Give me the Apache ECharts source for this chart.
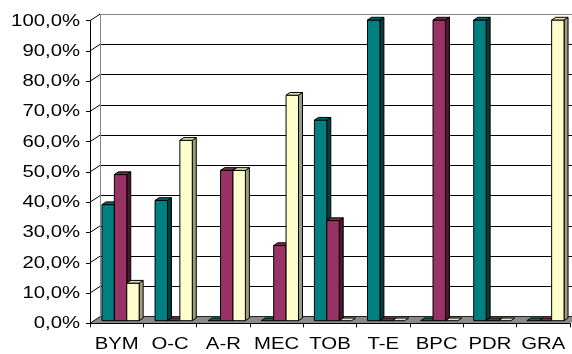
<!DOCTYPE html>
<html>
<head>
<meta charset="utf-8">
<script src="https://cdn.jsdelivr.net/npm/echarts@6/dist/echarts.min.js"></script>
<style>
  html, body { margin: 0; padding: 0; background: #fff; }
  #chart { width: 572px; height: 354px; }
</style>
</head>
<body>
<div id="chart"></div>
<script>
// Categories and the three series (percent shares per category)
const categories = ['BYM', 'O-C', 'A-R', 'MEC', 'TOB', 'T-E', 'BPC', 'PDR', 'GRA'];
const tealValues = [38.6, 40, 0, 0, 66.7, 100, 0, 100, 0];
const maroonValues = [48.6, 0, 50, 25, 33.3, 0, 100, 0, 0];
const yellowValues = [12.5, 60, 50, 75, 0, 0, 0, 0, 100];
const yTicks = [0, 10, 20, 30, 40, 50, 60, 70, 80, 90, 100];

const FONT = 'Liberation Sans, Arial, sans-serif';
const LABEL_SIZE = 16;
const LABEL_STRETCH = 1.27;   // labels are set a little wide
// Oblique projection offsets: front plane -> back wall, and bar depth
const WALL_DX = 10, WALL_DY = 6.6;
const BAR_DX = 4, BAR_DY = 2.7;
const BAR_W = 12.4;

const palettes = [
  { front: '#008080', top: '#006a6a', side: '#003d3d' },
  { front: '#993366', top: '#7d2953', side: '#4a1830' },
  { front: '#ffffcc', top: '#e3e3b0', side: '#9c9c7e' }
];

function pct(v) { return v.toFixed(1).replace('.', ',') + '%'; }

function barRenderer(s) {
  const pal = palettes[s];
  return function (params, api) {
    const i = api.value(0), v = api.value(1);
    const top = api.coord([i, v]);
    const base = api.coord([i, 0]);
    const x0 = top[0] - 1.5 * BAR_W + s * BAR_W;
    const x1 = x0 + BAR_W;
    const yt = top[1], yb = base[1];
    const stroke = { stroke: '#000', lineWidth: 1 };
    const children = [];
    if (yb - yt > 0.5) {
      children.push({
        type: 'polygon',
        shape: { points: [[x1, yt], [x1 + BAR_DX, yt - BAR_DY], [x1 + BAR_DX, yb - BAR_DY], [x1, yb]] },
        style: Object.assign({ fill: pal.side }, stroke)
      });
      children.push({
        type: 'rect',
        shape: { x: x0, y: yt, width: BAR_W, height: yb - yt },
        style: Object.assign({ fill: pal.front }, stroke)
      });
    }
    children.push({
      type: 'polygon',
      shape: { points: [[x0, yt], [x1, yt], [x1 + BAR_DX, yt - BAR_DY], [x0 + BAR_DX, yt - BAR_DY]] },
      style: Object.assign({ fill: pal.top }, stroke)
    });
    return { type: 'group', children: children };
  };
}

const seriesValues = [tealValues, maroonValues, yellowValues];
const barSeries = seriesValues.map((vals, s) => ({
  type: 'custom',
  xAxisIndex: 1,
  yAxisIndex: 1,
  z: 3,
  renderItem: barRenderer(s),
  encode: { x: 0, y: 1 },
  data: vals.map((v, i) => [i, v])
}));

function wideText(text, x, y, align) {
  return {
    type: 'text', x: x, y: y, scaleX: LABEL_STRETCH,
    style: {
      text: text, fill: '#000', fontFamily: FONT, fontSize: LABEL_SIZE,
      align: align, verticalAlign: 'middle'
    }
  };
}

const chart = echarts.init(document.getElementById('chart'), null, { renderer: 'canvas' });

chart.setOption({
  animation: false,
  backgroundColor: '#ffffff',
  grid: [
    // back wall
    { left: 100, top: 14.1, width: 480, height: 302.6 },
    // plane through the bars
    { left: 94, top: 20, width: 480, height: 300.7 },
    // front plane carrying the axes
    { left: 90, top: 20.7, width: 480, height: 302.6 }
  ],
  xAxis: [
    { gridIndex: 0, type: 'category', data: categories, show: false },
    { gridIndex: 1, type: 'category', data: categories, show: false },
    {
      gridIndex: 2, type: 'category', data: categories, z: 6,
      axisLine: { lineStyle: { color: '#000', width: 1 } },
      axisTick: { show: true, length: 4, lineStyle: { color: '#000' } },
      axisLabel: { show: false },
      splitLine: { show: false }
    }
  ],
  yAxis: [
    {
      gridIndex: 0, type: 'value', min: 0, max: 100, interval: 10, z: 0,
      axisLine: { show: true, lineStyle: { color: '#888', width: 1 } },
      axisTick: { show: false },
      axisLabel: { show: false },
      splitLine: {
        show: true,
        lineStyle: { color: ['#000', '#000', '#000', '#000', '#000', '#000', '#000', '#000', '#000', '#000', '#888'], width: 1 }
      }
    },
    { gridIndex: 1, type: 'value', min: 0, max: 100, interval: 10, show: false },
    {
      gridIndex: 2, type: 'value', min: 0, max: 100, interval: 10, z: 6,
      axisLine: { show: true, lineStyle: { color: '#000', width: 1 } },
      axisTick: { show: true, length: 4, lineStyle: { color: '#000' } },
      axisLabel: { show: false },
      splitLine: { show: false }
    }
  ],
  series: [
    // grey floor between front axis and back wall
    {
      type: 'custom', xAxisIndex: 2, yAxisIndex: 2, z: 1, silent: true,
      data: [[0, 0]],
      renderItem: function (params, api) {
        const first = api.coord([0, 0]);
        const last = api.coord([categories.length - 1, 0]);
        const half = api.size([1, 0])[0] / 2;
        const L = first[0] - half, R = last[0] + half, y = first[1];
        return {
          type: 'polygon',
          shape: { points: [[L, y], [R, y], [R + WALL_DX, y - WALL_DY], [L + WALL_DX, y - WALL_DY]] },
          style: { fill: '#8a8a8a', stroke: null }
        };
      }
    },
    // side-wall gridlines joining front ticks to the back wall
    {
      type: 'custom', xAxisIndex: 2, yAxisIndex: 2, z: 5, silent: true,
      data: yTicks.map(t => [0, t]),
      renderItem: function (params, api) {
        const p = api.coord([0, api.value(1)]);
        const L = p[0] - api.size([1, 0])[0] / 2;
        return {
          type: 'line',
          shape: { x1: L, y1: p[1], x2: L + WALL_DX, y2: p[1] - WALL_DY },
          style: { stroke: '#000', lineWidth: 1 }
        };
      }
    },
    // value-axis labels
    {
      type: 'custom', xAxisIndex: 2, yAxisIndex: 2, z: 6, silent: true,
      data: yTicks.map(t => [0, t]),
      renderItem: function (params, api) {
        const v = api.value(1);
        const p = api.coord([0, v]);
        const L = p[0] - api.size([1, 0])[0] / 2;
        return wideText(pct(v), L - 10, p[1] + 0.5, 'right');
      }
    },
    // category labels
    {
      type: 'custom', xAxisIndex: 2, yAxisIndex: 2, z: 6, silent: true,
      data: categories.map((c, i) => [i, 0]),
      renderItem: function (params, api) {
        const i = api.value(0);
        const p = api.coord([i, 0]);
        return wideText(categories[i], p[0], p[1] + 21.5, 'center');
      }
    }
  ].concat(barSeries)
});
</script>
</body>
</html>
